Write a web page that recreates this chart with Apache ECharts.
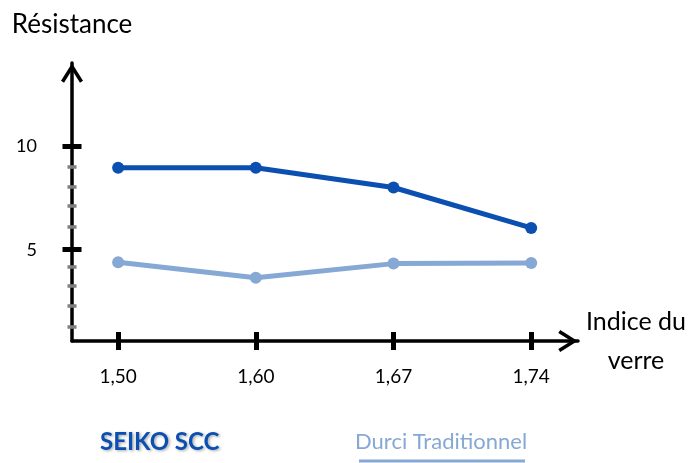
<!DOCTYPE html>
<html>
<head>
<meta charset="utf-8">
<script src="https://cdn.jsdelivr.net/npm/echarts@6/dist/echarts.min.js"></script>
<style>html,body{margin:0;padding:0;background:#fff}#c{width:691px;height:463px}</style>
</head>
<body>
<div id="c"></div>
<script>
const categories = ['1,50', '1,60', '1,67', '1,74'];
const seikoValues = [8.95, 8.95, 8.0, 6.05];
const durciValues = [4.4, 3.65, 4.33, 4.36];
const yMajorTicks = [5, 10];
const yMinorTicks = [1.3, 2.3, 3.25, 4.2, 6.1, 7.1, 8.05, 9.0];
const seriesNames = ['SEIKO SCC', 'Durci Traditionnel'];

const xTicks = categories.map((c, i) => i);
const DARK = '#0b4fb1';
const LIGHT = '#86a8d4';
const ARROW = 'path://M11,0 L22,17.5 L19,19.4 L11,6.6 L3,19.4 L0,17.5 Z';

const yBase = { type: 'value', min: 0.6, max: 14, position: 'left', splitLine: { show: false },
  axisLine: { show: false, onZero: false }, axisLabel: { show: false } };
const xBase = { type: 'value', min: -0.335, max: 3.34, position: 'bottom', splitLine: { show: false },
  axisLine: { show: false, onZero: false }, axisLabel: { show: false } };

const chart = echarts.init(document.getElementById('c'));
chart.setOption({
  animation: false,
  textStyle: { fontFamily: 'Lato' },
  grid: { left: 72, right: 113, top: 63, bottom: 122, containLabel: false },
  xAxis: [
    Object.assign({}, xBase, {
      axisLine: { show: true, onZero: false, lineStyle: { color: '#000', width: 3.5 },
        symbol: ['none', ARROW], symbolSize: [22, 20], symbolOffset: [0, -10] },
      axisTick: { show: true, customValues: xTicks, length: 9, lineStyle: { color: '#000', width: 5 } },
      axisLabel: { show: true, customValues: xTicks, formatter: v => categories[Math.round(v)],
        margin: 26, fontSize: 19, color: '#000' },
      name: 'Indice du\nverre', nameLocation: 'end', nameGap: 58,
      nameTextStyle: { fontSize: 25, lineHeight: 39, align: 'center', color: '#000', padding: [0, 0, 24, 0] }
    }),
    Object.assign({}, xBase, {
      axisTick: { show: true, inside: true, customValues: xTicks, length: 9, lineStyle: { color: '#000', width: 5 } }
    })
  ],
  yAxis: [
    Object.assign({}, yBase, {
      axisTick: { show: true, customValues: yMinorTicks, length: 4.5, lineStyle: { color: '#7f7f7f', width: 3.5 } }
    }),
    Object.assign({}, yBase, {
      axisTick: { show: true, inside: true, customValues: yMinorTicks, length: 4.5, lineStyle: { color: '#7f7f7f', width: 3.5 } }
    }),
    Object.assign({}, yBase, {
      axisLine: { show: true, onZero: false, lineStyle: { color: '#000', width: 3.5 },
        symbol: ['none', ARROW], symbolSize: [22, 20], symbolOffset: [0, -10] },
      axisTick: { show: true, customValues: yMajorTicks, length: 9.5, lineStyle: { color: '#000', width: 5 } },
      axisLabel: { show: true, customValues: yMajorTicks, margin: 35, fontSize: 18, color: '#000' },
      name: 'Résistance', nameLocation: 'end', nameGap: 25,
      nameTextStyle: { fontSize: 26, color: '#000' }
    }),
    Object.assign({}, yBase, {
      axisTick: { show: true, inside: true, customValues: yMajorTicks, length: 9.5, lineStyle: { color: '#000', width: 5 } }
    })
  ],
  legend: [
    { data: [{ name: seriesNames[0] }], left: 95, top: 430, padding: 0, icon: 'none', itemWidth: 0,
      selectedMode: false,
      textStyle: { fontSize: 24, fontWeight: 'bold', color: DARK, fontFamily: 'Lato',
        textShadowColor: 'rgba(0,0,0,0.35)', textShadowBlur: 3, textShadowOffsetX: 1.5, textShadowOffsetY: 1.5 } },
    { data: [{ name: seriesNames[1] }], left: 350, top: 431, padding: 0, icon: 'none', itemWidth: 0,
      selectedMode: false, formatter: '{t|{name}}\n{s|}{u|}',
      textStyle: { rich: {
        t: { fontSize: 22, lineHeight: 22, color: LIGHT, fontFamily: 'Lato' },
        s: { width: 4, height: 3, lineHeight: 16 },
        u: { height: 3, width: 166, backgroundColor: LIGHT, lineHeight: 16 } } } }
  ],
  series: [
    { name: seriesNames[0], type: 'line', xAxisIndex: 0, yAxisIndex: 2,
      data: seikoValues.map((v, i) => [i, v]),
      symbol: 'circle', symbolSize: 12, itemStyle: { color: DARK }, lineStyle: { color: DARK, width: 5 } },
    { name: seriesNames[1], type: 'line', xAxisIndex: 0, yAxisIndex: 2,
      data: durciValues.map((v, i) => [i, v]),
      symbol: 'circle', symbolSize: 12, itemStyle: { color: LIGHT }, lineStyle: { color: LIGHT, width: 5 } }
  ]
});
</script>
</body>
</html>
